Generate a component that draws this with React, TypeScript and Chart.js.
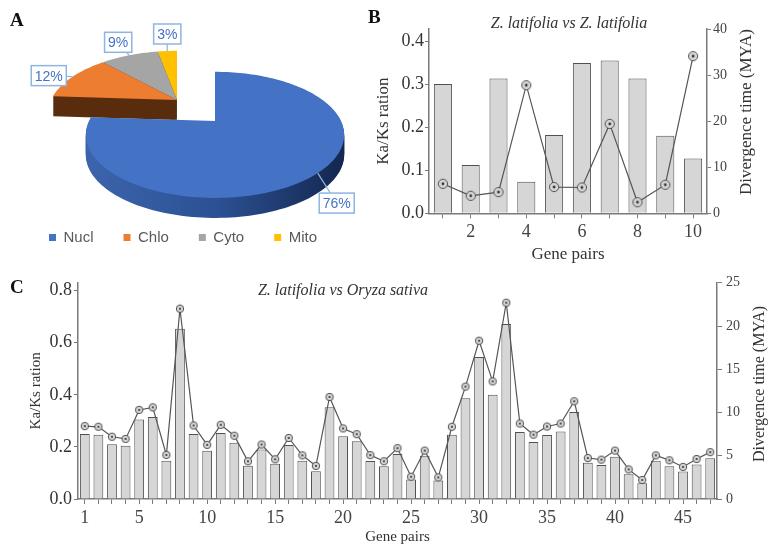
import React, { useEffect, useRef } from "react";
import { Chart, registerables } from "chart.js";
Chart.register(...registerables);

const SERIF = "'Liberation Serif', 'Times New Roman', serif";
const SANS = "'Liberation Sans', Arial, sans-serif";

// ---------- Panel A data ----------
const PIE_LABELS = ["Nucl", "Chlo", "Cyto", "Mito"];
const PIE_VALUES = [76, 12, 9, 3];

// ---------- Panel B data ----------
const B_PAIRS = ["1", "2", "3", "4", "5", "6", "7", "8", "9", "10"];
const B_KAKS = [0.3, 0.112, 0.313, 0.073, 0.182, 0.349, 0.355, 0.313, 0.18, 0.127];
const B_TIME = [6.4, 3.8, 4.6, 27.8, 5.7, 5.6, 19.4, 2.4, 6.2, 34.1];
const B_KAKS_TICKS = [0, 0.1, 0.2, 0.3, 0.4];

// ---------- Panel C data ----------
const C_PAIRS = [
  "1", "2", "3", "4", "5", "6", "7", "8", "9", "10",
  "11", "12", "13", "14", "15", "16", "17", "18", "19", "20",
  "21", "22", "23", "24", "25", "26", "27", "28", "29", "30",
  "31", "32", "33", "34", "35", "36", "37", "38", "39", "40",
  "41", "42", "43", "44", "45", "46", "47",
];
const C_KAKS = [
  0.25, 0.247, 0.21, 0.204, 0.305, 0.315, 0.147, 0.654, 0.25, 0.185,
  0.2535, 0.216, 0.1275, 0.19, 0.135, 0.207, 0.147, 0.107, 0.352, 0.241,
  0.222, 0.146, 0.126, 0.1725, 0.075, 0.166, 0.071, 0.247, 0.387, 0.545,
  0.4, 0.672, 0.257, 0.2185, 0.246, 0.259, 0.334, 0.139, 0.131, 0.162,
  0.095, 0.06, 0.147, 0.126, 0.106, 0.132, 0.156,
];
const C_TIME = [
  8.43, 8.35, 7.2, 6.95, 10.3, 10.6, 5.1, 22.0, 8.5, 6.26,
  8.58, 7.32, 4.36, 6.3, 4.59, 7.06, 5.05, 3.83, 11.8, 8.16,
  7.5, 5.08, 4.36, 5.88, 2.58, 5.6, 2.5, 8.35, 13.0, 18.3,
  13.6, 22.7, 8.73, 7.44, 8.38, 8.73, 11.3, 4.74, 4.55, 5.6,
  3.42, 2.2, 5.05, 4.48, 3.71, 4.63, 5.42,
];
const C_KAKS_TICKS = [0, 0.2, 0.4, 0.6, 0.8];

// ---------- styles ----------
const PIE_COLORS = ["#4472C4", "#ED7D31", "#A5A5A5", "#FFC000"];
const PIE_SIDE = ["#2b4f90", "#5a2d0e", "#3d3d3d", "#7f6000"];
const PIE_CX = 215;
const PIE_CY = 121;
const PIE_RX = 126;
const PIE_RY = 60;
const PIE_PERSP = 0.22;
const PIE_DEPTH = 20;
const PIE_EXPLODE = [-38, -21];
const LABEL_OFFSETS = [
  [19, 30],
  [-24, -1],
  [-11, -13],
  [0, -17],
];

function pieProj(a: number, r: number) {
  const u = r * Math.cos(a);
  const v = r * Math.sin(a);
  const f = 1 / (1 - PIE_PERSP * v);
  return [u * PIE_RX * f, v * PIE_RY * f];
}

function sectorPath(ctx: CanvasRenderingContext2D, start: number, end: number, ox: number, oy: number) {
  const n = Math.max(2, Math.ceil((end - start) / 0.03));
  ctx.beginPath();
  ctx.moveTo(ox, oy);
  for (let j = 0; j <= n; j++) {
    const a = start + ((end - start) * j) / n;
    const [x, y] = pieProj(a, 1);
    ctx.lineTo(ox + x, oy + y);
  }
  ctx.closePath();
}

const pie3dPlugin = {
  id: "pie3d",
  beforeDatasetsDraw(chart: any) {
    const arcs = chart.getDatasetMeta(0).data as any[];
    if (!arcs.length) return;
    const ctx = chart.ctx as CanvasRenderingContext2D;
    const order = [3, 2, 1, 0];
    for (const i of order) {
      const arc = arcs[i];
      const { startAngle, endAngle } = arc.getProps(["startAngle", "endAngle"], true);
      const ox = PIE_CX + (i === 0 ? 0 : PIE_EXPLODE[0]);
      const oy = PIE_CY + (i === 0 ? 0 : PIE_EXPLODE[1]);
      let side: any = PIE_SIDE[i];
      if (i === 0) {
        const g = ctx.createLinearGradient(ox - PIE_RX, 0, ox + PIE_RX, 0);
        g.addColorStop(0, "#3c64ac");
        g.addColorStop(0.5, "#2c5194");
        g.addColorStop(1, "#142850");
        side = g;
      }
      for (let d = PIE_DEPTH; d >= 1; d--) {
        sectorPath(ctx, startAngle, endAngle, ox, oy + d);
        ctx.fillStyle = side;
        ctx.fill();
      }
      sectorPath(ctx, startAngle, endAngle, ox, oy);
      ctx.fillStyle = arc.options.backgroundColor;
      ctx.fill();
    }
    return false;
  },
};

const pieLabelPlugin = {
  id: "pieLabels",
  afterDraw(chart: any) {
    const arcs = chart.getDatasetMeta(0).data as any[];
    const ctx = chart.ctx as CanvasRenderingContext2D;
    ctx.save();
    ctx.font = `14px ${SANS}`;
    arcs.forEach((arc, i) => {
      const { startAngle, endAngle } = arc.getProps(["startAngle", "endAngle"], true);
      const a = (startAngle + endAngle) / 2;
      const ox = PIE_CX + (i === 0 ? 0 : PIE_EXPLODE[0]);
      const oy = PIE_CY + (i === 0 ? 0 : PIE_EXPLODE[1]);
      const [ex, ey] = pieProj(a, 1);
      const px = ox + ex;
      const py = oy + ey;
      const lx = px + LABEL_OFFSETS[i][0];
      const ly = py + LABEL_OFFSETS[i][1];
      const text = `${PIE_VALUES[i]}%`;
      const w = ctx.measureText(text).width + 7;
      const h = 20;
      ctx.strokeStyle = "#8fb4e3";
      ctx.lineWidth = 1.2;
      ctx.beginPath();
      ctx.moveTo(px, py);
      ctx.lineTo(lx, ly);
      ctx.stroke();
      ctx.fillStyle = "#fff";
      ctx.fillRect(lx - w / 2, ly - h / 2, w, h);
      ctx.lineWidth = 1.5;
      ctx.strokeRect(lx - w / 2, ly - h / 2, w, h);
      ctx.fillStyle = "#4472C4";
      ctx.textAlign = "center";
      ctx.textBaseline = "middle";
      ctx.fillText(text, lx, ly + 1);
    });
    ctx.restore();
  },
};

const rightTitlePlugin = {
  id: "rightTitle",
  afterDraw(chart: any, _args: any, opts: any) {
    if (!opts || !opts.text) return;
    const ctx = chart.ctx as CanvasRenderingContext2D;
    ctx.save();
    ctx.translate(opts.x, opts.y);
    ctx.rotate(-Math.PI / 2);
    ctx.font = `${opts.size}px ${SERIF}`;
    ctx.fillStyle = "#333";
    ctx.textAlign = "center";
    ctx.textBaseline = "middle";
    ctx.fillText(opts.text, 0, 0);
    ctx.restore();
  },
};

function makeMarker(size: number, r: number, dot: number) {
  const c = document.createElement("canvas");
  c.width = size;
  c.height = size;
  const g = c.getContext("2d")!;
  g.beginPath();
  g.arc(size / 2, size / 2, r, 0, Math.PI * 2);
  g.fillStyle = "#d6d6d6";
  g.fill();
  g.lineWidth = 1;
  g.strokeStyle = "#505050";
  g.stroke();
  g.beginPath();
  g.arc(size / 2, size / 2, dot, 0, Math.PI * 2);
  g.fillStyle = "#333";
  g.fill();
  return c;
}

function pieConfig(): any {
  return {
    type: "pie",
    data: {
      labels: PIE_LABELS,
      datasets: [{ data: PIE_VALUES, backgroundColor: PIE_COLORS, borderWidth: 0 }],
    },
    options: {
      responsive: false,
      animation: false,
      layout: { padding: { left: 0, right: 14, top: 0, bottom: 15 } },
      plugins: {
        legend: {
          position: "bottom",
          labels: {
            boxWidth: 7,
            boxHeight: 7,
            padding: 30,
            color: "#595959",
            font: { family: SANS, size: 15 },
          },
        },
        tooltip: { enabled: false },
      },
    },
    plugins: [pie3dPlugin, pieLabelPlugin],
  };
}

function comboConfig(p: any): any {
  const axisColor = "#7a7a7a";
  return {
    type: "bar",
    data: {
      labels: p.labels,
      datasets: [
        {
          type: "line",
          data: p.time,
          yAxisID: "y1",
          borderColor: "#555",
          borderWidth: 1.2,
          pointStyle: p.marker,
          pointRadius: 4,
          tension: 0,
          order: 0,
        },
        {
          type: "bar",
          data: p.kaks,
          yAxisID: "y",
          backgroundColor: "#d6d6d6",
          borderColor: "#505050",
          borderWidth: 1,
          barPercentage: p.barPct,
          categoryPercentage: 1,
          order: 1,
        },
      ],
    },
    options: {
      responsive: false,
      animation: false,
      layout: { padding: { top: p.padTop, left: 0, right: 0, bottom: 0 } },
      plugins: {
        legend: { display: false },
        tooltip: { enabled: false },
        title: p.title
          ? {
              display: true,
              text: p.title,
              color: "#333",
              font: { family: SERIF, size: 16, style: "italic", weight: "normal", lineHeight: 1 },
              padding: { top: 16, bottom: -3 },
            }
          : { display: false },
        rightTitle: p.rightTitle,
      },
      scales: {
        x: {
          type: "category",
          offset: true,
          grid: {
            display: true,
            drawOnChartArea: false,
            drawTicks: true,
            tickLength: 5,
            offset: false,
            color: axisColor,
          },
          border: { display: true, color: axisColor, width: 1.5 },
          ticks: {
            autoSkip: false,
            maxRotation: 0,
            padding: 3,
            color: "#444",
            font: { family: SERIF, size: 18 },
            callback: (_v: any, i: number) => (p.showX(i) ? p.labels[i] : ""),
          },
          title: {
            display: true,
            text: "Gene pairs",
            color: "#333",
            font: { family: SERIF, size: p.titleSize },
            padding: { top: 0, bottom: p.xTitlePad },
          },
          afterFit: (s: any) => {
            s.height = p.xH;
          },
        },
        y: {
          position: "left",
          min: 0,
          max: p.yMax,
          afterBuildTicks: (s: any) => {
            s.ticks = p.yTicks.map((v: number) => ({ value: v }));
          },
          grid: { drawOnChartArea: false, tickLength: 4, color: axisColor },
          border: { display: true, color: axisColor, width: 1.5 },
          ticks: {
            padding: p.yPad,
            color: "#333",
            font: { family: SERIF, size: 18 },
            callback: (v: any) => Number(v).toFixed(1),
          },
          title: {
            display: true,
            text: "Ka/Ks ration",
            color: "#333",
            font: { family: SERIF, size: p.titleSize },
            padding: { top: p.yTitlePad, bottom: 0 },
          },
          afterFit: (s: any) => {
            s.width = p.yW;
          },
        },
        y1: {
          position: "right",
          min: 0,
          max: p.y1Max,
          grid: { drawOnChartArea: false, tickLength: p.y1Tick, color: axisColor },
          border: { display: true, color: axisColor, width: 1.5 },
          ticks: {
            stepSize: p.y1Step,
            padding: p.y1Pad,
            color: "#444",
            font: { family: SERIF, size: 14 },
          },
          afterFit: (s: any) => {
            s.width = p.y1W;
          },
        },
      },
    },
    plugins: [rightTitlePlugin],
  };
}

function bConfig() {
  return comboConfig({
    labels: B_PAIRS,
    kaks: B_KAKS,
    time: B_TIME,
    marker: makeMarker(12, 4.6, 1.4),
    barPct: 0.65,
    padTop: 0,
    title: "Z. latifolia vs Z. latifolia",
    titleSize: 17,
    showX: (i: number) => (i + 1) % 2 === 0,
    xH: 56.7,
    xTitlePad: 4.8,
    yMax: 0.428,
    yTicks: B_KAKS_TICKS,
    yPad: 1,
    yTitlePad: 3,
    yW: 59,
    y1Max: 40,
    y1Step: 10,
    y1Tick: 4,
    y1Pad: 2,
    y1W: 61,
    rightTitle: { text: "Divergence time (MYA)", x: 376.7, y: 112, size: 17 },
  });
}

function cConfig() {
  return comboConfig({
    labels: C_PAIRS,
    kaks: C_KAKS,
    time: C_TIME,
    marker: makeMarker(10, 3.7, 1.1),
    barPct: 0.72,
    padTop: 8,
    title: null,
    titleSize: 15,
    showX: (i: number) => i === 0 || (i + 1) % 5 === 0,
    xH: 49,
    xTitlePad: 2.3,
    yMax: 0.83,
    yTicks: C_KAKS_TICKS,
    yPad: 2,
    yTitlePad: 27,
    yW: 78,
    y1Max: 25,
    y1Step: 5,
    y1Tick: 5,
    y1Pad: 4,
    y1W: 51,
    rightTitle: { text: "Divergence time (MYA)", x: 760, y: 114, size: 16 },
  });
}

function ChartCanvas(props: { left: number; top: number; width: number; height: number; make: () => any }) {
  const ref = useRef<HTMLCanvasElement>(null);
  useEffect(() => {
    const chart = new Chart(ref.current as HTMLCanvasElement, props.make());
    return () => chart.destroy();
  }, []);
  return (
    <canvas
      ref={ref}
      width={props.width}
      height={props.height}
      style={{ position: "absolute", left: props.left, top: props.top, width: props.width, height: props.height }}
    />
  );
}

const letterStyle: React.CSSProperties = {
  position: "absolute",
  fontFamily: SERIF,
  fontWeight: "bold",
  fontSize: 19,
  lineHeight: 1,
  color: "#111",
};

export default function App() {
  return (
    <div style={{ position: "fixed", left: 0, top: 0, width: 768, height: 548, background: "#fff", overflow: "hidden" }}>
      <ChartCanvas left={0} top={0} width={380} height={270} make={pieConfig} />
      <ChartCanvas left={370} top={0} width={398} height={270} make={bConfig} />
      <ChartCanvas left={0} top={270} width={768} height={278} make={cConfig} />
      <div style={{ ...letterStyle, left: 10, top: 10 }}>A</div>
      <div style={{ ...letterStyle, left: 368, top: 7 }}>B</div>
      <div style={{ ...letterStyle, left: 10, top: 277 }}>C</div>
      <div
        style={{
          position: "absolute",
          left: 343,
          top: 282,
          transform: "translateX(-50%)",
          fontFamily: SERIF,
          fontStyle: "italic",
          fontSize: 16,
          lineHeight: 1,
          color: "#333",
          whiteSpace: "nowrap",
        }}
      >
        Z. latifolia vs Oryza sativa
      </div>
    </div>
  );
}
